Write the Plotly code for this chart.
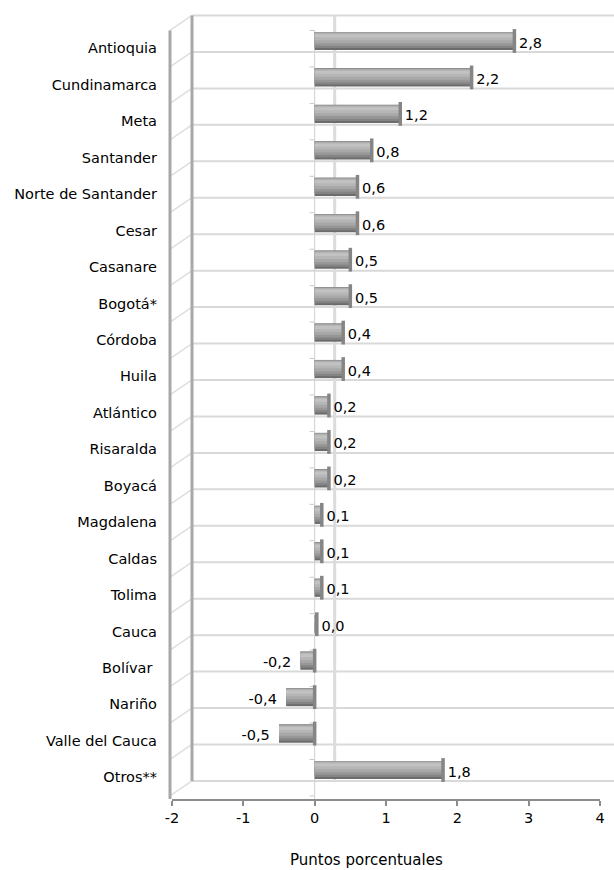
import plotly.graph_objects as go

categories = ["Antioquia", "Cundinamarca", "Meta", "Santander", "Norte de Santander",
              "Cesar", "Casanare", "Bogotá*", "Córdoba", "Huila", "Atlántico",
              "Risaralda", "Boyacá", "Magdalena", "Caldas", "Tolima", "Cauca",
              "Bolívar ", "Nariño", "Valle del Cauca", "Otros**"]
values = [2.8, 2.2, 1.2, 0.8, 0.6, 0.6, 0.5, 0.5, 0.4, 0.4, 0.2, 0.2, 0.2,
          0.1, 0.1, 0.1, 0.03, -0.2, -0.4, -0.5, 1.8]
x_ticks = [-2, -1, 0, 1, 2, 3, 4]
x_title = "Puntos porcentuales"

# ---- layout geometry (pixels) ----
W, H = 614, 870
PL, PR = 172, 600          # x=-2 .. x=4
PT, PB = 10, 799           # plot top / bottom
XMIN, XMAX = -2, 4
UNIT = 36.45               # px per category
FIRST = 41                 # px centre of first bar
DX, DY = 20, 15            # 3D depth offset in px

def xpaper(px):
    return (px - PL) / (PR - PL)

def xpix(v):
    return PL + (v - XMIN) / (XMAX - XMIN) * (PR - PL)

y_top = (PT - FIRST) / UNIT
y_bot = (PB - FIRST) / UNIT
dyu = DY / UNIT

n = len(categories)
idx = list(range(n))
labels = [f"{v:.1f}".replace(".", ",") for v in values]

FONT = "DejaVu Sans"

fig = go.Figure()
# cylinder-like shading: stacked layers of the same bars (width, offset, colour)
shading = [(0.50, -0.25, "#6c6c6c"),
           (0.44, -0.245, "#848484"),
           (0.37, -0.24, "#979797"),
           (0.29, -0.23, "#a8a8a8"),
           (0.19, -0.21, "#b6b6b6"),
           (0.08, -0.18, "#c2c2c2")]
for w, off, col in shading:
    fig.add_trace(go.Bar(y=idx, x=values, orientation="h", width=w, offset=off,
                         marker=dict(color=col, line=dict(width=0)),
                         hoverinfo="skip"))

# cylinder end caps (right end of each bar)
fig.add_trace(go.Scatter(x=[max(v, 0) for v in values], y=idx, mode="markers",
                         marker=dict(symbol="line-ns", size=17,
                                     line=dict(color="#858585", width=3.5)),
                         hoverinfo="skip"))

# value labels
pos_i = [i for i in idx if values[i] >= 0]
neg_i = [i for i in idx if values[i] < 0]
fig.add_trace(go.Scatter(x=[values[i] for i in pos_i], y=[i + 0.08 for i in pos_i],
                         mode="text", text=[" " + labels[i] for i in pos_i],
                         textposition="middle right",
                         textfont=dict(family=FONT, size=14.5, color="#000"),
                         hoverinfo="skip"))
fig.add_trace(go.Scatter(x=[values[i] for i in neg_i], y=[i + 0.08 for i in neg_i],
                         mode="text", text=[labels[i] + "  " for i in neg_i],
                         textposition="middle left",
                         textfont=dict(family=FONT, size=14.5, color="#000"),
                         hoverinfo="skip"))

shapes = []
grid_y = [i + 0.3 for i in range(-1, n)]
back_left = xpaper(xpix(XMIN) + DX)
outer_left = xpaper(xpix(XMIN) - 2)
# back wall horizontal grid lines
for g in grid_y:
    shapes.append(dict(type="line", xref="paper", yref="y", x0=back_left, x1=xpaper(W + 5),
                       y0=g, y1=g, line=dict(color="#d9d9d9", width=2), layer="below"))
# back wall zero line
bz = xpaper(xpix(0) + DX)
shapes.append(dict(type="line", xref="paper", yref="y", x0=bz, x1=bz,
                   y0=grid_y[0], y1=grid_y[-1], line=dict(color="#dcdcdc", width=3), layer="below"))
# left wall: diagonals
for g in grid_y:
    shapes.append(dict(type="line", xref="paper", yref="y", x0=outer_left, x1=back_left,
                       y0=g + dyu, y1=g, line=dict(color="#dedede", width=1.5), layer="below"))
# left wall verticals
shapes.append(dict(type="line", xref="paper", yref="y", x0=back_left, x1=back_left,
                   y0=grid_y[0], y1=grid_y[-1], line=dict(color="#a8a8a8", width=3), layer="below"))
shapes.append(dict(type="line", xref="paper", yref="y", x0=outer_left, x1=outer_left,
                   y0=grid_y[0] + dyu, y1=y_bot, line=dict(color="#a8a8a8", width=3), layer="below"))
# front category axis at x = 0
shapes.append(dict(type="line", xref="x", yref="y", x0=0, x1=0,
                   y0=grid_y[0] + dyu, y1=y_bot, line=dict(color="#d0d0d0", width=1), layer="below"))
for g in grid_y:
    shapes.append(dict(type="line", xref="paper", yref="y", x0=xpaper(xpix(0) - 5),
                       x1=xpaper(xpix(0)), y0=g + dyu, y1=g + dyu,
                       line=dict(color="#c8c8c8", width=1), layer="below"))

fig.update_layout(
    width=W, height=H,
    margin=dict(l=PL, r=W - PR, t=PT, b=H - PB, pad=0),
    paper_bgcolor="white", plot_bgcolor="white",
    barmode="overlay", showlegend=False,
    shapes=shapes,
    font=dict(family=FONT, size=14, color="#000"),
    xaxis=dict(range=[XMIN, XMAX], tickvals=x_ticks,
               ticktext=[str(t) for t in x_ticks],
               showgrid=False, zeroline=False, showline=True,
               linecolor="#8c8c8c", linewidth=1.5, ticks="outside",
               ticklen=5, tickcolor="#8c8c8c", tickwidth=1.5,
               tickfont=dict(family=FONT, size=14.5, color="#000")),
    yaxis=dict(range=[y_bot, y_top], tickvals=[i + 0.2 for i in idx],
               ticktext=categories, showgrid=False, zeroline=False,
               showline=False, ticks="", ticklabelstandoff=14,
               tickfont=dict(family=FONT, size=14.5, color="#000")),
    annotations=[dict(text=x_title, xref="paper", yref="paper",
                      x=xpaper(366), y=-(860 - PB) / (PB - PT),
                      xanchor="center", yanchor="middle", showarrow=False,
                      font=dict(family=FONT, size=15, color="#000"))],
)

fig.write_html("out.html", config={"displayModeBar": False},
               post_script="document.body.style.margin='0';document.body.style.overflow='hidden';")
